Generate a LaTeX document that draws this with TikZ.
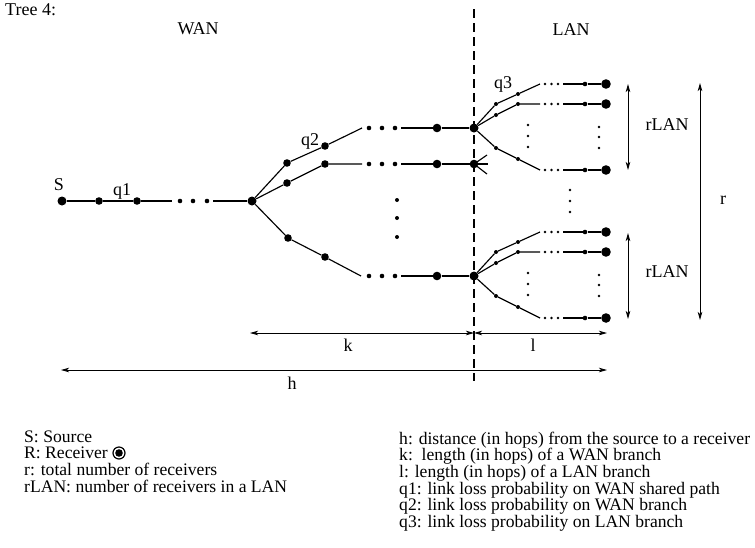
\documentclass[tikz,border=0pt]{standalone}
\usepackage{fontspec}
\setmainfont{Liberation Serif}
\usetikzlibrary{arrows.meta}
\tikzset{
  dotbase/.style={circle,fill=black,draw=none,inner sep=0pt},
  bigdot/.style={dotbase,minimum size=9pt},
  meddot/.style={dotbase,minimum size=7.6pt},
  enddot/.style={dotbase,minimum size=8.6pt},
  elldot/.style={dotbase,minimum size=4.6pt},
  vdot/.style={dotbase,minimum size=4pt},
  landot/.style={dotbase,minimum size=4pt},
  lanell/.style={dotbase,minimum size=2.8pt},
  lanvdot/.style={dotbase,minimum size=2.6pt},
  presdot/.style={dotbase,minimum size=4.6pt},
  recvdot/.style={dotbase,minimum size=9.6pt},
  tree/.style={line width=1.15pt},
  divider/.style={line width=2.4pt,dash pattern=on 9pt off 5pt},
  dimarrow/.style={line width=0.9pt,{Stealth[length=8pt,width=4.5pt,inset=2pt]}-{Stealth[length=8pt,width=4.5pt,inset=2pt]}},
  lbl/.style={inner sep=0pt,font=\fontsize{18}{18}\selectfont},
  legend/.style={inner sep=0pt,anchor=base west,font=\fontsize{17.6}{17.6}\selectfont},
}
\begin{document}
\begin{tikzpicture}[x=1pt,y=-1pt]
\useasboundingbox (0,0) rectangle (755,547);

% divider
\coordinate (dtop) at (474,9);
\coordinate (dbot) at (474,381);
\draw[divider] (dtop) -- (dbot);

% titles
\node[lbl,anchor=west] (title) at (5,10) {Tree 4:};
\node[lbl] (wan) at (198,29) {WAN};
\node[lbl] (lan) at (571,30) {LAN};

% shared WAN path
\node[bigdot] (S) at (62,201) {};
\node[meddot] (a1) at (99,201) {};
\node[meddot] (a2) at (137,201) {};
\coordinate (ca) at (172,201);
\node[elldot] (e1) at (180,201) {};
\node[elldot] (e2) at (193,201) {};
\node[elldot] (e3) at (207,201) {};
\coordinate (cb) at (213,201);
\node[bigdot] (B) at (252,201) {};
\draw[tree] (S) -- (a1) -- (a2) -- (ca);
\draw[tree] (cb) -- (B);
\node[lbl] (Slbl) at (59,185) {S};
\node[lbl] (q1lbl) at (122,191) {q1};

% WAN branches
\node[meddot] (u1) at (287,163) {};
\node[meddot] (u2) at (325,146) {};
\coordinate (cu) at (362,128);
\node[meddot] (m1) at (287,183) {};
\node[meddot] (m2) at (325,164) {};
\coordinate (cm) at (362,164);
\node[meddot] (l1) at (288,238) {};
\node[meddot] (l2) at (325,257) {};
\coordinate (cl) at (361,276);
\foreach \n/\yy in {u/128,m/164,l/276}{
  \node[elldot] (\n d1) at (369,\yy) {};
  \node[elldot] (\n d2) at (382,\yy) {};
  \node[elldot] (\n d3) at (395,\yy) {};
  \coordinate (\n s) at (401,\yy);
  \node[enddot] (\n E) at (437,\yy) {};
}
\node[vdot] (wv1) at (397,200) {};
\node[vdot] (wv2) at (397,218) {};
\node[vdot] (wv3) at (397,237) {};
\node[lbl] (q2lbl) at (310,141) {q2};

% hubs
\node[bigdot] (Ph) at (474,128) {};
\node[enddot] (Mh) at (474,164) {};
\node[bigdot] (Qh) at (474,276) {};

\draw[tree] (B) -- (u1) -- (u2) -- (cu);
\draw[tree] (B) -- (m1) -- (m2) -- (cm);
\draw[tree] (B) -- (l1) -- (l2) -- (cl);
\draw[tree] (us) -- (uE) -- (Ph);
\draw[tree] (ms) -- (mE) -- (Mh);
\draw[tree] (ls) -- (lE) -- (Qh);

% stub at middle hub
\coordinate (st1) at (487,155);
\coordinate (st2) at (488,164);
\coordinate (st3) at (487,174);
\draw[tree] (Mh.center) -- (st1);
\draw[tree] (Mh.center) -- (st2);
\draw[tree] (Mh.center) -- (st3);

% LAN groups
\foreach \g/\hy in {P/128,Q/276}{
  \foreach \br/\ya/\yb/\yc in {a/-24/-34/-44,b/-13/-24/-24,c/20/31/42}{
    \node[landot] (\g\br1) at (496,{\hy+\ya}) {};
    \node[landot] (\g\br2) at (518,{\hy+\yb}) {};
    \coordinate (\g\br e) at (540,{\hy+\yc});
    \node[lanell] (\g\br d1) at (545,{\hy+\yc}) {};
    \node[lanell] (\g\br d2) at (551.5,{\hy+\yc}) {};
    \node[lanell] (\g\br d3) at (558,{\hy+\yc}) {};
    \coordinate (\g\br s) at (563,{\hy+\yc});
    \node[presdot] (\g\br p) at (585,{\hy+\yc}) {};
    \node[recvdot] (\g\br r) at (606,{\hy+\yc}) {};
    \draw[tree] (\g h) -- (\g\br1) -- (\g\br2) -- (\g\br e);
    \draw[tree] (\g\br s) -- (\g\br p) -- (\g\br r);
  }
  \node[lanvdot] (\g v1) at (528,{\hy-3}) {};
  \node[lanvdot] (\g v2) at (528,{\hy+8}) {};
  \node[lanvdot] (\g v3) at (528,{\hy+19}) {};
  \node[lanvdot] (\g w1) at (599,{\hy-1}) {};
  \node[lanvdot] (\g w2) at (599,{\hy+9}) {};
  \node[lanvdot] (\g w3) at (599,{\hy+20}) {};
}
\node[lanvdot] (mv1) at (570,190) {};
\node[lanvdot] (mv2) at (570,201) {};
\node[lanvdot] (mv3) at (570,212) {};
\node[lbl] (q3lbl) at (503,84) {q3};

% receiver-count arrows
\coordinate (rl1t) at (628,84);
\coordinate (rl1b) at (628,170);
\coordinate (rl2t) at (628,233);
\coordinate (rl2b) at (628,319);
\coordinate (rt) at (700,83);
\coordinate (rb) at (700,320);
\draw[dimarrow] (rl1t) -- (rl1b);
\draw[dimarrow] (rl2t) -- (rl2b);
\draw[dimarrow] (rt) -- (rb);
\node[lbl] (rlan1) at (667,125) {rLAN};
\node[lbl] (rlan2) at (667,272) {rLAN};
\node[lbl] (rlbl) at (723,200) {r};

% hop-count arrows
\coordinate (kL) at (250,333);
\coordinate (kR) at (474,333);
\coordinate (lR) at (607,333);
\coordinate (hL) at (61,370);
\coordinate (hR) at (607,370);
\draw[dimarrow] (kL) -- (kR);
\draw[dimarrow] (kR) -- (lR);
\draw[dimarrow] (hL) -- (hR);
\node[lbl] (klbl) at (348,345) {k};
\node[lbl] (llbl) at (533,345) {l};
\node[lbl] (hlbl) at (292,383) {h};

% legend left
\node[legend] (L1) at (24,442) {S: Source};
\node[legend] (L2) at (24,458.7) {R: Receiver};
\node[legend] (L3) at (24,475.4) {r: total number of receivers};
\node[legend] (L4) at (24,492.1) {rLAN: number of receivers in a LAN};
\coordinate (recsym) at (119,453);
\draw[line width=1.2pt] (recsym) circle (6pt);
\fill (recsym) circle (3.8pt);

% legend right
\node[legend] (R1) at (399,444) {h: distance (in hops) from the source to a receiver};
\node[legend] (R2) at (399,460.7) {k:\ \ length (in hops) of a WAN branch};
\node[legend] (R3) at (399,477.4) {l: length (in hops) of a LAN branch};
\node[legend] (R4) at (399,494.1) {q1: link loss probability on WAN shared path};
\node[legend] (R5) at (399,510.8) {q2: link loss probability on WAN branch};
\node[legend] (R6) at (399,527.5) {q3: link loss probability on LAN branch};
\end{tikzpicture}
\end{document}
